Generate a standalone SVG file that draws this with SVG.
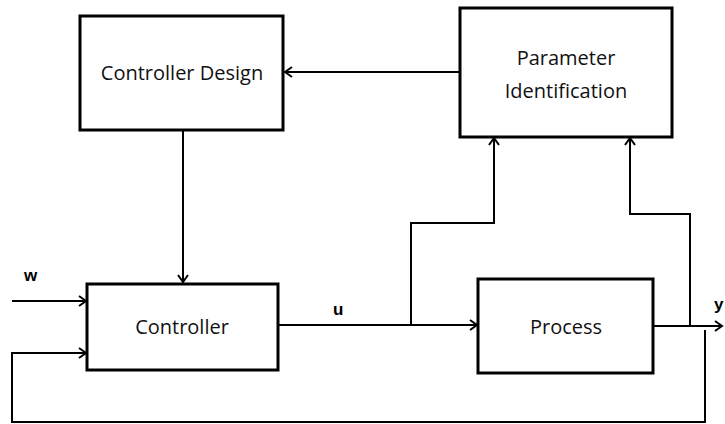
<svg xmlns="http://www.w3.org/2000/svg" width="725" height="424" viewBox="0 0 725 424">
<defs>
<style>
.box{fill:#fff;stroke:#000;stroke-width:3}
.ln{fill:none;stroke:#000;stroke-width:2}
.t{font-family:"Open Sans","Liberation Sans",sans-serif;font-size:20px;fill:#111;text-anchor:middle}
.b{font-family:"Liberation Sans",sans-serif;font-size:17px;font-weight:bold;fill:#000}
</style>
<marker id="ah" markerWidth="12" markerHeight="12" refX="10" refY="6" orient="auto" markerUnits="userSpaceOnUse">
<polyline points="3,1 10,6 3,11" fill="none" stroke="#000" stroke-width="2"/>
</marker>
</defs>
<g id="connectors">
<line class="ln" x1="460" y1="72" x2="285" y2="72" marker-end="url(#ah)"/>
<line class="ln" x1="183" y1="130" x2="183" y2="282" marker-end="url(#ah)"/>
<line class="ln" x1="12" y1="301" x2="86" y2="301" marker-end="url(#ah)" stroke-width="3"/>
<polyline class="ln" points="705,330 705,422 12,422 12,353 86,353" marker-end="url(#ah)"/>
<line class="ln" x1="278" y1="325" x2="477" y2="325" marker-end="url(#ah)" stroke-width="2.5"/>
<polyline class="ln" points="411,325 411,223 494,223 494,138" marker-end="url(#ah)"/>
<polyline class="ln" points="690,325 690,214 630,214 630,138" marker-end="url(#ah)"/>
<line class="ln" x1="653" y1="326" x2="722" y2="326" marker-end="url(#ah)" stroke-width="2.5"/>
</g>
<g id="controller-design">
<rect class="box" x="80" y="16" width="203" height="114"/>
<text class="t" x="182" y="80">Controller Design</text>
</g>
<g id="parameter-identification">
<rect class="box" x="460" y="8" width="212" height="129"/>
<text class="t" x="566" y="65">Parameter</text>
<text class="t" x="566" y="98">Identification</text>
</g>
<g id="controller">
<rect class="box" x="87" y="284" width="191" height="86"/>
<text class="t" x="182" y="334">Controller</text>
</g>
<g id="process">
<rect class="box" x="478" y="279" width="175" height="94"/>
<text class="t" x="566" y="334">Process</text>
</g>
<text class="b" x="24" y="281">w</text>
<text class="b" x="333" y="315">u</text>
<text class="b" x="714" y="310">y</text>
</svg>
